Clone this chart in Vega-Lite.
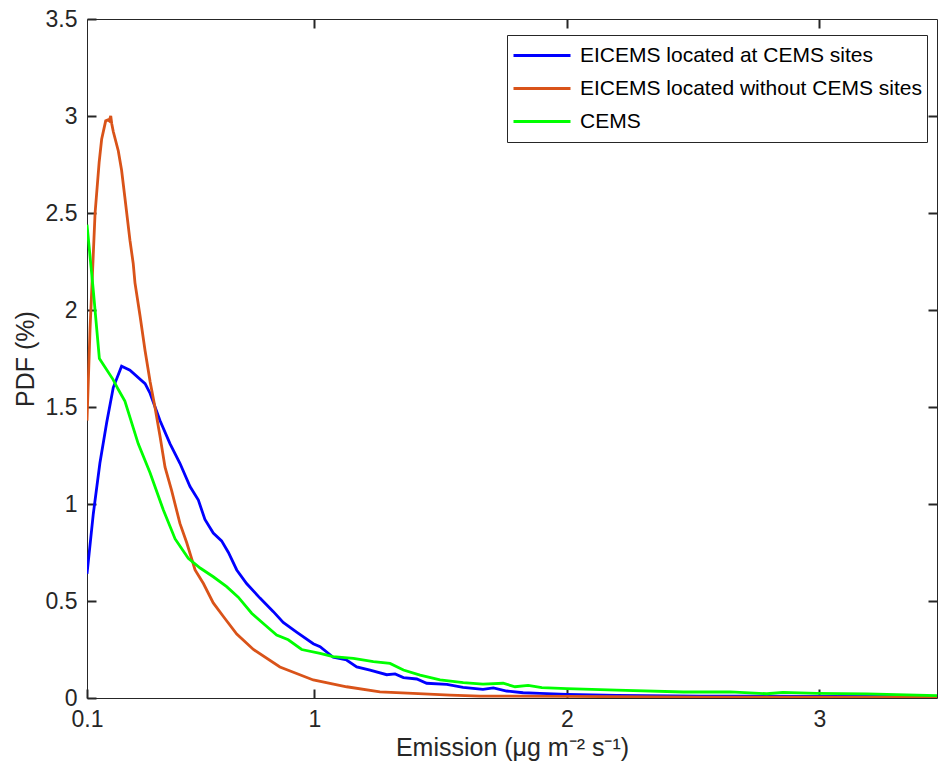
{
  "$schema": "https://vega.github.io/schema/vega-lite/v6.json",
  "width": 850,
  "height": 679,
  "autosize": {"type": "none"},
  "padding": {"left": 87, "top": 19, "right": 1, "bottom": 80},
  "background": "white",
  "config": {
    "view": {"stroke": "#262626", "strokeWidth": 1},
    "font": "Liberation Sans",
    "axis": {
      "domain": false,
      "grid": false,
      "labelFlush": false,
      "labelOverlap": false,
      "labelFont": "Liberation Sans",
      "labelFontSize": 23,
      "labelColor": "#262626",
      "titleFont": "Liberation Sans",
      "titleFontSize": 25,
      "titleFontWeight": "normal",
      "titleColor": "#262626"
    }
  },
  "data": {
    "values": [
      {"s": "A", "x": 0.100, "y": 0.64},
      {"s": "A", "x": 0.125, "y": 0.95},
      {"s": "A", "x": 0.151, "y": 1.21},
      {"s": "A", "x": 0.178, "y": 1.42},
      {"s": "A", "x": 0.204, "y": 1.60},
      {"s": "A", "x": 0.237, "y": 1.71},
      {"s": "A", "x": 0.270, "y": 1.69},
      {"s": "A", "x": 0.330, "y": 1.62},
      {"s": "A", "x": 0.350, "y": 1.57},
      {"s": "A", "x": 0.389, "y": 1.43},
      {"s": "A", "x": 0.429, "y": 1.31},
      {"s": "A", "x": 0.468, "y": 1.21},
      {"s": "A", "x": 0.508, "y": 1.09},
      {"s": "A", "x": 0.541, "y": 1.02},
      {"s": "A", "x": 0.567, "y": 0.92},
      {"s": "A", "x": 0.600, "y": 0.85},
      {"s": "A", "x": 0.633, "y": 0.81},
      {"s": "A", "x": 0.660, "y": 0.75},
      {"s": "A", "x": 0.693, "y": 0.66},
      {"s": "A", "x": 0.732, "y": 0.59},
      {"s": "A", "x": 0.785, "y": 0.515},
      {"s": "A", "x": 0.838, "y": 0.445},
      {"s": "A", "x": 0.877, "y": 0.39},
      {"s": "A", "x": 0.930, "y": 0.34},
      {"s": "A", "x": 0.996, "y": 0.28},
      {"s": "A", "x": 1.023, "y": 0.265},
      {"s": "A", "x": 1.075, "y": 0.21},
      {"s": "A", "x": 1.128, "y": 0.196},
      {"s": "A", "x": 1.168, "y": 0.16},
      {"s": "A", "x": 1.221, "y": 0.144},
      {"s": "A", "x": 1.287, "y": 0.12},
      {"s": "A", "x": 1.320, "y": 0.124},
      {"s": "A", "x": 1.353, "y": 0.105},
      {"s": "A", "x": 1.406, "y": 0.098},
      {"s": "A", "x": 1.445, "y": 0.076},
      {"s": "A", "x": 1.525, "y": 0.070},
      {"s": "A", "x": 1.589, "y": 0.055},
      {"s": "A", "x": 1.668, "y": 0.045},
      {"s": "A", "x": 1.709, "y": 0.052},
      {"s": "A", "x": 1.762, "y": 0.036},
      {"s": "A", "x": 1.827, "y": 0.027},
      {"s": "A", "x": 1.894, "y": 0.024},
      {"s": "A", "x": 2.000, "y": 0.019},
      {"s": "A", "x": 2.198, "y": 0.014},
      {"s": "A", "x": 2.528, "y": 0.010},
      {"s": "A", "x": 3.003, "y": 0.008},
      {"s": "A", "x": 3.466, "y": 0.007},
      {"s": "B", "x": 0.100, "y": 1.43},
      {"s": "B", "x": 0.112, "y": 1.90},
      {"s": "B", "x": 0.132, "y": 2.50},
      {"s": "B", "x": 0.148, "y": 2.76},
      {"s": "B", "x": 0.158, "y": 2.88},
      {"s": "B", "x": 0.174, "y": 2.975},
      {"s": "B", "x": 0.183, "y": 2.98},
      {"s": "B", "x": 0.188, "y": 2.975},
      {"s": "B", "x": 0.194, "y": 3.00},
      {"s": "B", "x": 0.198, "y": 2.96},
      {"s": "B", "x": 0.204, "y": 2.92},
      {"s": "B", "x": 0.224, "y": 2.82},
      {"s": "B", "x": 0.237, "y": 2.72},
      {"s": "B", "x": 0.250, "y": 2.58},
      {"s": "B", "x": 0.270, "y": 2.36},
      {"s": "B", "x": 0.283, "y": 2.24},
      {"s": "B", "x": 0.290, "y": 2.14},
      {"s": "B", "x": 0.310, "y": 1.97},
      {"s": "B", "x": 0.330, "y": 1.79},
      {"s": "B", "x": 0.350, "y": 1.63},
      {"s": "B", "x": 0.369, "y": 1.50},
      {"s": "B", "x": 0.389, "y": 1.35},
      {"s": "B", "x": 0.409, "y": 1.19},
      {"s": "B", "x": 0.435, "y": 1.07},
      {"s": "B", "x": 0.468, "y": 0.90},
      {"s": "B", "x": 0.495, "y": 0.80},
      {"s": "B", "x": 0.528, "y": 0.66},
      {"s": "B", "x": 0.561, "y": 0.59},
      {"s": "B", "x": 0.600, "y": 0.49},
      {"s": "B", "x": 0.640, "y": 0.42},
      {"s": "B", "x": 0.693, "y": 0.33},
      {"s": "B", "x": 0.759, "y": 0.25},
      {"s": "B", "x": 0.864, "y": 0.16},
      {"s": "B", "x": 0.996, "y": 0.093},
      {"s": "B", "x": 1.128, "y": 0.058},
      {"s": "B", "x": 1.260, "y": 0.032},
      {"s": "B", "x": 1.391, "y": 0.024},
      {"s": "B", "x": 1.538, "y": 0.015},
      {"s": "B", "x": 1.656, "y": 0.010},
      {"s": "B", "x": 2.000, "y": 0.008},
      {"s": "B", "x": 2.530, "y": 0.005},
      {"s": "B", "x": 3.000, "y": 0.004},
      {"s": "B", "x": 3.466, "y": 0.003},
      {"s": "C", "x": 0.100, "y": 2.44},
      {"s": "C", "x": 0.125, "y": 2.10},
      {"s": "C", "x": 0.149, "y": 1.75},
      {"s": "C", "x": 0.204, "y": 1.64},
      {"s": "C", "x": 0.224, "y": 1.59},
      {"s": "C", "x": 0.250, "y": 1.53},
      {"s": "C", "x": 0.303, "y": 1.31},
      {"s": "C", "x": 0.350, "y": 1.16},
      {"s": "C", "x": 0.402, "y": 0.97},
      {"s": "C", "x": 0.449, "y": 0.82},
      {"s": "C", "x": 0.501, "y": 0.72},
      {"s": "C", "x": 0.548, "y": 0.67},
      {"s": "C", "x": 0.600, "y": 0.625},
      {"s": "C", "x": 0.653, "y": 0.574},
      {"s": "C", "x": 0.699, "y": 0.52},
      {"s": "C", "x": 0.752, "y": 0.437},
      {"s": "C", "x": 0.805, "y": 0.376},
      {"s": "C", "x": 0.851, "y": 0.325},
      {"s": "C", "x": 0.897, "y": 0.30},
      {"s": "C", "x": 0.950, "y": 0.25},
      {"s": "C", "x": 1.023, "y": 0.23},
      {"s": "C", "x": 1.074, "y": 0.213},
      {"s": "C", "x": 1.155, "y": 0.204},
      {"s": "C", "x": 1.234, "y": 0.187},
      {"s": "C", "x": 1.300, "y": 0.178},
      {"s": "C", "x": 1.353, "y": 0.144},
      {"s": "C", "x": 1.419, "y": 0.118},
      {"s": "C", "x": 1.498, "y": 0.093},
      {"s": "C", "x": 1.590, "y": 0.079},
      {"s": "C", "x": 1.668, "y": 0.072},
      {"s": "C", "x": 1.748, "y": 0.076},
      {"s": "C", "x": 1.795, "y": 0.058},
      {"s": "C", "x": 1.847, "y": 0.065},
      {"s": "C", "x": 1.901, "y": 0.053},
      {"s": "C", "x": 2.000, "y": 0.048},
      {"s": "C", "x": 2.198, "y": 0.041},
      {"s": "C", "x": 2.462, "y": 0.031},
      {"s": "C", "x": 2.647, "y": 0.032},
      {"s": "C", "x": 2.792, "y": 0.022},
      {"s": "C", "x": 2.856, "y": 0.029},
      {"s": "C", "x": 2.990, "y": 0.024},
      {"s": "C", "x": 3.188, "y": 0.021},
      {"s": "C", "x": 3.466, "y": 0.012}
    ]
  },
  "layer": [
    {
      "mark": {"type": "line", "strokeWidth": 2.8, "clip": true},
      "encoding": {
        "x": {
          "field": "x",
          "type": "quantitative",
          "scale": {"domain": [0.1, 3.466], "nice": false, "zero": false},
          "axis": {
            "orient": "bottom",
            "values": [0.1, 1, 2, 3],
            "format": "~g",
            "ticks": true,
            "tickSize": -9,
            "tickColor": "#262626",
            "tickWidth": 2,
            "labelPadding": 19,
            "title": "Emission (μg m⁻² s⁻¹)",
            "titlePadding": 4
          }
        },
        "y": {
          "field": "y",
          "type": "quantitative",
          "scale": {"domain": [0, 3.5], "nice": false},
          "axis": {
            "orient": "left",
            "values": [0, 0.5, 1, 1.5, 2, 2.5, 3, 3.5],
            "format": "~g",
            "ticks": true,
            "tickSize": -9,
            "tickColor": "#262626",
            "tickWidth": 2,
            "labelPadding": 19,
            "title": "PDF (%)",
            "titlePadding": 7
          }
        },
        "color": {
          "field": "s",
          "type": "nominal",
          "scale": {"domain": ["A", "B", "C"], "range": ["#0000ff", "#d95319", "#00ff00"]},
          "legend": {
            "orient": "none",
            "legendX": 420,
            "legendY": 16,
            "title": null,
            "symbolType": "stroke",
            "symbolSize": 3249,
            "symbolStrokeWidth": 2.8,
            "labelFontSize": 21,
            "labelFont": "Liberation Sans",
            "labelColor": "#000000",
            "labelOffset": 8,
            "strokeColor": "#262626",
            "fillColor": "white",
            "padding": 5,
            "clipHeight": 31,
            "rowPadding": 2,
            "labelLimit": 500,
            "labelExpr": "datum.value == 'A' ? 'EICEMS located at CEMS sites' : datum.value == 'B' ? 'EICEMS located without CEMS sites' : 'CEMS'"
          }
        }
      }
    },
    {
      "mark": {"type": "line", "opacity": 0},
      "encoding": {
        "x": {
          "field": "x",
          "type": "quantitative",
          "axis": {"orient": "top", "offset": -9, "ticks": true, "tickSize": 9, "tickColor": "#262626", "tickWidth": 2, "values": [1, 2, 3], "labels": false, "title": null}
        },
        "y": {
          "field": "y",
          "type": "quantitative",
          "axis": {"orient": "right", "offset": -9, "ticks": true, "tickSize": 9, "tickColor": "#262626", "tickWidth": 2, "values": [0.5, 1, 1.5, 2, 2.5, 3], "labels": false, "title": null}
        }
      }
    }
  ],
  "resolve": {"axis": {"x": "independent", "y": "independent"}}
}
